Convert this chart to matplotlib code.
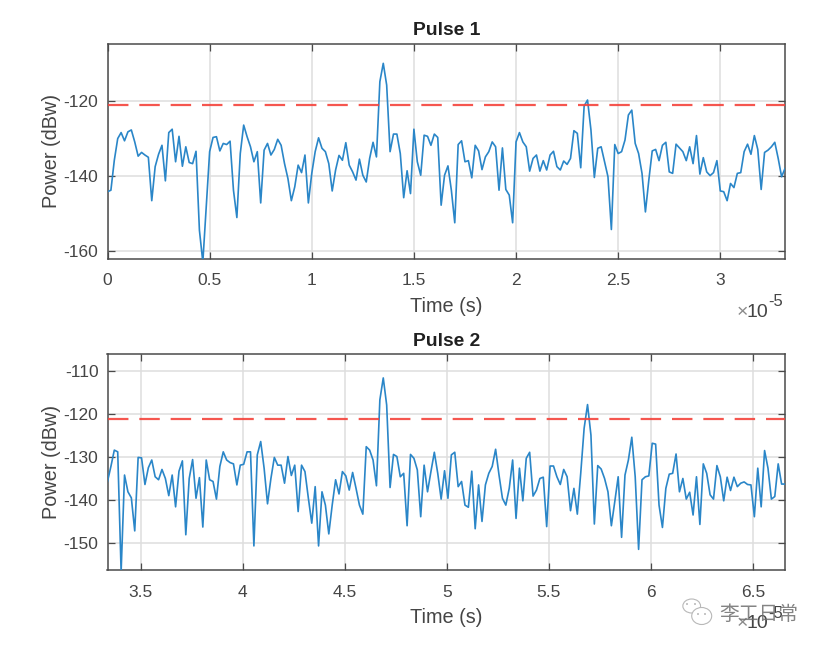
import numpy as np
import matplotlib
matplotlib.use("Agg")
import matplotlib.pyplot as plt
from matplotlib.patches import Ellipse

plt.rcParams['font.family'] = ['Liberation Sans', 'DejaVu Sans']
plt.rcParams['axes.unicode_minus'] = False

pulse1_power = [
 -144.2,-143.8,-135.8,-130.0,-128.4,-130.6,-128.2,-127.7,-130.9,-134.7,-133.7,-134.4,-135.0,-146.6,-137.5,-134.2,-131.8,-141.3,-128.4,-127.5,
 -136.2,-129.4,-137.4,-132.2,-136.4,-136.7,-133.4,-154.5,-163.0,-148.2,-133.5,-129.7,-129.5,-133.3,-131.3,-131.6,-130.7,-143.8,-151.1,-134.0,
 -126.4,-129.5,-132.2,-136.2,-133.5,-147.2,-133.1,-131.3,-134.4,-132.9,-130.2,-131.8,-136.7,-140.7,-146.6,-142.9,-137.1,-139.1,-134.4,-147.2,
 -139.3,-133.5,-129.8,-132.6,-133.5,-136.7,-144.0,-138.4,-134.5,-135.8,-131.1,-137.1,-138.9,-141.1,-135.5,-139.8,-141.6,-135.3,-131.0,-134.9,
 -114.8,-109.9,-115.7,-133.5,-128.8,-128.8,-134.0,-145.8,-138.6,-144.7,-127.5,-136.2,-139.8,-129.1,-129.4,-131.8,-128.8,-129.7,-147.8,-139.8,-137.3,
 -143.8,-152.5,-131.6,-130.6,-136.2,-135.9,-140.5,-131.8,-133.3,-138.3,-134.9,-133.5,-130.9,-132.2,-143.8,-132.5,-143.6,-145.1,-152.5,-130.9,
 -128.4,-130.9,-132.2,-138.7,-135.3,-134.4,-138.7,-135.9,-138.4,-134.4,-133.4,-137.5,-138.4,-136.0,-136.9,-135.3,-127.9,-128.6,-137.8,-121.3,
 -119.7,-127.7,-140.4,-132.6,-132.2,-136.2,-140.2,-154.3,-131.6,-134.0,-133.5,-130.4,-123.7,-122.4,-131.3,-134.0,-139.3,-149.6,-141.1,-133.3,
 -132.9,-135.9,-131.8,-131.0,-138.9,-139.3,-131.5,-132.5,-133.5,-135.9,-132.2,-136.7,-129.2,-139.5,-135.1,-138.9,-139.9,-139.1,-135.9,-144.0,
 -144.2,-146.6,-142.0,-143.1,-139.3,-139.1,-133.5,-131.5,-134.2,-129.2,-132.9,-143.6,-133.7,-133.1,-132.2,-131.0,-135.3,-140.2,-138.0]

pulse2_power = [
 -135.7,-132.2,-128.4,-128.8,-156.7,-134.2,-138.1,-139.5,-147.2,-130.1,-130.2,-136.4,-132.5,-130.7,-134.6,-135.3,-132.9,-135.0,-139.0,-134.2,
 -141.6,-133.3,-130.9,-148.1,-135.0,-130.6,-139.6,-134.8,-146.3,-130.7,-135.3,-135.7,-139.8,-132.2,-128.8,-130.7,-131.3,-131.6,-136.5,-131.9,
 -131.7,-128.8,-128.8,-150.7,-129.5,-126.4,-132.6,-140.9,-135.0,-130.1,-131.9,-131.9,-136.1,-129.9,-134.3,-131.9,-142.7,-131.9,-133.4,-139.6,
 -145.4,-136.9,-150.7,-138.1,-141.2,-147.9,-141.2,-135.3,-138.6,-133.4,-134.4,-137.7,-133.6,-137.3,-141.2,-143.3,-127.6,-128.4,-130.7,-136.7,
 -116.7,-111.6,-117.9,-137.1,-129.4,-129.9,-134.6,-133.8,-146.0,-129.4,-130.3,-133.0,-143.9,-131.9,-138.1,-133.4,-128.9,-133.8,-139.8,-133.2,-139.6,
 -129.5,-128.9,-136.9,-135.7,-141.2,-141.7,-133.3,-146.7,-136.5,-145.0,-136.5,-133.8,-132.2,-128.2,-134.2,-139.6,-141.2,-137.3,-130.7,-144.3,
 -132.6,-140.2,-130.3,-128.9,-139.1,-137.7,-135.0,-134.7,-146.2,-132.1,-132.1,-134.6,-136.4,-132.9,-134.6,-142.5,-137.3,-143.3,-133.8,-123.3,
 -117.8,-124.9,-145.6,-132.0,-132.8,-135.0,-138.1,-146.0,-140.4,-134.6,-148.7,-134.2,-130.7,-125.4,-134.6,-151.5,-135.3,-134.6,-134.4,-126.8,
 -127.0,-141.2,-146.4,-137.3,-134.0,-133.8,-129.3,-138.1,-135.0,-139.8,-138.2,-143.5,-134.6,-145.7,-131.6,-133.8,-138.8,-139.8,-132.0,-134.6,
 -140.2,-134.7,-137.8,-134.7,-136.9,-136.1,-135.8,-136.4,-136.5,-143.9,-132.6,-141.6,-128.5,-132.6,-139.8,-139.2,-131.6,-136.3,-136.3]

threshold = -121.1
titles = ["Pulse 1", "Pulse 2"]
x_ticks_1 = [0, 0.5, 1, 1.5, 2, 2.5, 3]
x_labels_1 = ["0", "0.5", "1", "1.5", "2", "2.5", "3"]
x_ticks_2 = [3.5, 4, 4.5, 5, 5.5, 6, 6.5]
x_labels_2 = ["3.5", "4", "4.5", "5", "5.5", "6", "6.5"]
y_ticks_1 = [-160, -140, -120]
y_ticks_2 = [-150, -140, -130, -120, -110]
xlim_1 = (0, 3.316)
xlim_2 = (3.337, 6.657)
ylim_1 = (-162.1, -104.6)
ylim_2 = (-156.3, -106.1)

W, H = 825, 649
fig = plt.figure(figsize=(W/100, H/100), dpi=100, facecolor='white')

def make_axes(l, t, r, b):
    return fig.add_axes([l/W, 1-b/H, (r-l)/W, (b-t)/H])

ax1 = make_axes(107.5, 43.5, 785, 258.7)
ax2 = make_axes(107.5, 354.3, 785, 570)

dark = '#4a4a4a'
text_col = '#454545'
panels = [
    (ax1, pulse1_power, xlim_1, ylim_1, x_ticks_1, x_labels_1, y_ticks_1, titles[0]),
    (ax2, pulse2_power, xlim_2, ylim_2, x_ticks_2, x_labels_2, y_ticks_2, titles[1]),
]
for ax, power, xlim, ylim, xt, xl, yt, title in panels:
    t = np.linspace(xlim[0], xlim[1], len(power))
    ax.plot(t, power, color='#2a86c8', lw=1.2, solid_joinstyle='round', zorder=3)
    ax.axhline(threshold, color='#f4433c', lw=1.6, dashes=(9.2, 4.9), alpha=0.9, zorder=4)
    ax.set_xlim(*xlim)
    ax.set_ylim(*ylim)
    ax.set_xticks(xt)
    ax.set_xticklabels(xl)
    ax.set_yticks(yt)
    ax.set_yticklabels([str(v) for v in yt])
    ax.grid(True, color='#dedede', lw=1.1)
    ax.set_axisbelow(True)
    ax.tick_params(direction='in', top=True, right=True, length=4.8, width=0.9,
                   color=dark, labelcolor=text_col, labelsize=12.5)
    ax.tick_params(axis='x', pad=10.5)
    ax.tick_params(axis='y', pad=6.5)
    for s in ax.spines.values():
        s.set_color(dark)
        s.set_linewidth(1.1)
    ax.set_xlabel("Time (s)", fontsize=14.3, color=text_col, va='center')
    ax.xaxis.set_label_coords(0.4996, -0.222)
    ax.set_ylabel("Power (dBw)", fontsize=14.3, color=text_col, va='center')
    ax.yaxis.set_label_coords(-0.083, 0.5)
    ax.set_title(title, fontsize=13.9, fontweight='bold', color='#202020', pad=6)
    ax.text(0.9753, -0.249, "10", transform=ax.transAxes, ha='right', va='center',
            fontsize=14, color=text_col)
    ax.text(0.9753, -0.201, "-5", transform=ax.transAxes, ha='left', va='center',
            fontsize=12, color=text_col)
    ax.text(0.9454, -0.249, "×", transform=ax.transAxes, ha='right', va='center',
            fontsize=14, color='#8a8a8a')

# watermark
fig.text(719/W, 1-614/H, "李工日常", fontsize=14.2, color='#6e6e6e', va='center', ha='left',
         family=['Noto Sans CJK SC', 'DejaVu Sans'], alpha=0.85, zorder=10)
for cx, cy, w, h in [(691.7, 606, 17.7, 14), (701.7, 616, 20, 17)]:
    fig.add_artist(Ellipse((cx/W, 1-cy/H), w/W, h/H, transform=fig.transFigure,
                           fc='white', ec='#b8b8b8', lw=0.8, zorder=9))
for cx, cy in [(687, 604), (695, 604), (698, 614), (705, 614)]:
    fig.add_artist(Ellipse((cx/W, 1-cy/H), 1.8/W, 1.8/H, transform=fig.transFigure,
                           fc='#a8a8a8', ec='none', zorder=10))

fig.savefig("out.png", dpi=100)
